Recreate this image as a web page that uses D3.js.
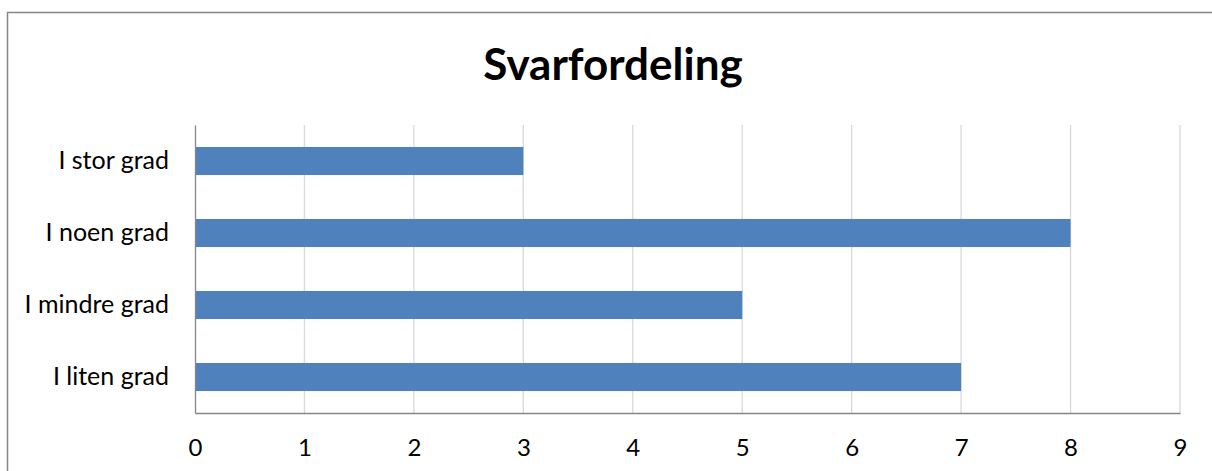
<!DOCTYPE html>
<html>
<head>
<meta charset="utf-8">
<script src="https://cdn.jsdelivr.net/npm/d3@7"></script>
<style>
  body { margin: 0; background: #fff; }
  svg { display: block; }
</style>
</head>
<body>
<svg id="chart" width="1212" height="471"></svg>
<script>
const categories = ["I stor grad", "I noen grad", "I mindre grad", "I liten grad"];
const values = [3, 8, 5, 7];
const ticks = [0, 1, 2, 3, 4, 5, 6, 7, 8, 9];
const title = "Svarfordeling";

const font = "Lato, 'Open Sans', sans-serif";
const svg = d3.select("#chart");

// outer chart frame (runs off the right and bottom edge)
svg.append("rect")
    .attr("x", 7.5).attr("y", 12.5)
    .attr("width", 1240).attr("height", 500)
    .attr("fill", "#fff")
    .attr("stroke", "#868686")
    .attr("stroke-width", 1.5);

const plotLeft = 195, plotRight = 1180, plotTop = 125, plotBottom = 413;

const x = d3.scaleLinear().domain([0, 9]).range([plotLeft, plotRight]);
const y = d3.scaleBand().domain(categories).range([plotTop, plotBottom]).paddingInner(0.61).paddingOuter(0.305);

// gridlines
svg.append("g")
    .selectAll("line")
    .data(ticks.slice(1))
    .join("line")
    .attr("x1", d => x(d)).attr("x2", d => x(d))
    .attr("y1", plotTop).attr("y2", plotBottom)
    .attr("stroke", "#d9d9d9")
    .attr("stroke-width", 1.3);

// bars
svg.append("g")
    .selectAll("rect")
    .data(values)
    .join("rect")
    .attr("x", x(0))
    .attr("y", (d, i) => y(categories[i]))
    .attr("width", d => x(d) - x(0))
    .attr("height", y.bandwidth())
    .attr("fill", "#4f81bd");

// axes
const xAxis = svg.append("g")
    .attr("transform", `translate(0,${plotBottom})`)
    .call(d3.axisBottom(x).tickValues(ticks).tickSize(0).tickPadding(26));
xAxis.select(".domain").attr("stroke", "#868686").attr("stroke-width", 1.3);
xAxis.selectAll("text")
    .style("font-size", "24px").style("font-family", font).attr("fill", "#000");

const yAxis = svg.append("g")
    .attr("transform", `translate(${plotLeft},0)`)
    .call(d3.axisLeft(y).tickSize(0).tickPadding(26));
yAxis.select(".domain").attr("stroke", "#868686").attr("stroke-width", 1.3);
yAxis.selectAll("text")
    .style("font-size", "25px").style("font-family", font).attr("fill", "#000");

// title
svg.append("text")
    .attr("x", 613).attr("y", 80)
    .attr("text-anchor", "middle")
    .style("font-size", "44px")
    .style("font-family", font)
    .style("font-weight", "bold")
    .text(title);
</script>
</body>
</html>
